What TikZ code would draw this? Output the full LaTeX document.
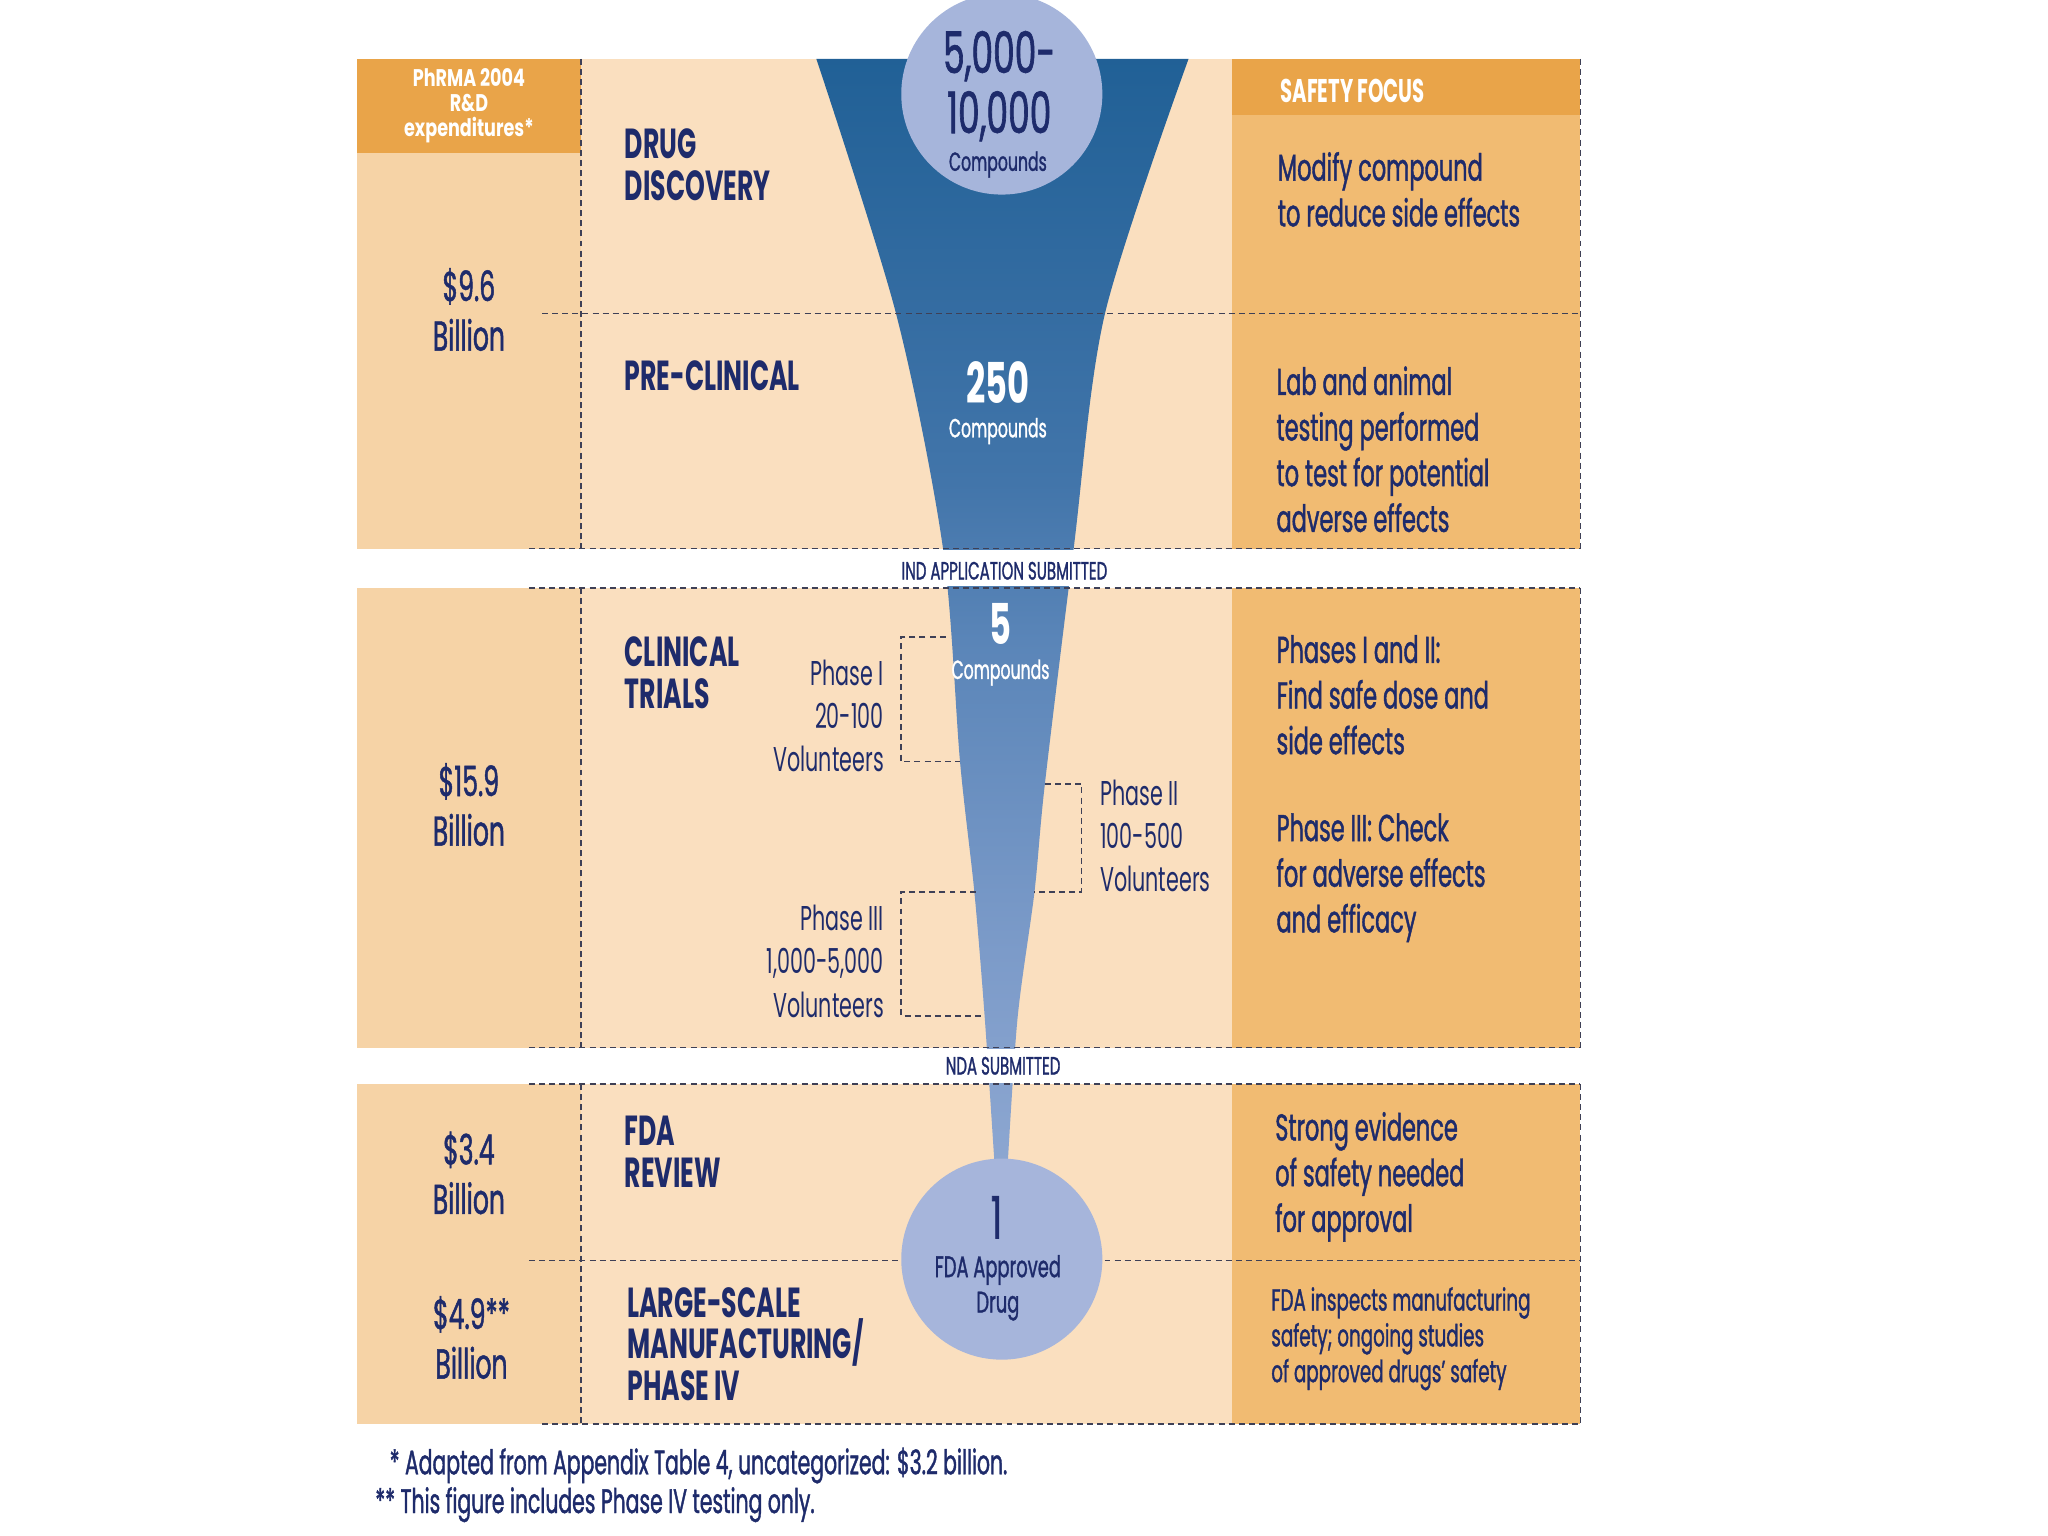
\documentclass[tikz,border=0pt]{standalone}
\usepackage{fontspec}
\setmainfont{Poppins}[FakeStretch=0.6]
\newfontfamily\medfont{Poppins}[FakeStretch=0.6, FakeBold=1.1]
\newfontfamily\headfont{Poppins}[FakeStretch=0.73]
\usetikzlibrary{positioning}

\definecolor{peach}{HTML}{FADFBF}
\definecolor{peachcol}{HTML}{F6D3A6}
\definecolor{safety}{HTML}{F1BB72}
\definecolor{headbar}{HTML}{E9A449}
\definecolor{navy}{HTML}{1E2B6B}
\definecolor{bubblefill}{HTML}{A6B5DB}
\definecolor{rule}{HTML}{3E4056}
\definecolor{fun0}{HTML}{B3C3E4}
\definecolor{fun1}{HTML}{A0B4DA}
\definecolor{fun2}{HTML}{7C9BC9}
\definecolor{fun3}{HTML}{5A85B8}
\definecolor{fun4}{HTML}{4275AA}
\definecolor{fun5}{HTML}{1D5E94}
\definecolor{fun6}{HTML}{175990}

% Funnel colours, bottom to top
\pgfdeclareverticalshading{funnelshade}{100bp}{%
  color(0bp)=(fun0); color(14bp)=(fun1); color(35bp)=(fun2);
  color(49bp)=(fun3); color(56bp)=(fun4); color(77bp)=(fun5);
  color(100bp)=(fun6)}

\begin{document}
\begin{tikzpicture}[x=0.02cm, y=-0.02cm,
  every node/.style={inner sep=0pt, text=navy},
  sep/.style={draw=rule, line width=0.8pt, dash pattern=on 2.6pt off 1.8pt},
  bracket/.style={draw=rule, line width=0.8pt, dash pattern=on 2.6pt off 1.8pt},
  bubble/.style={circle, fill=bubblefill, minimum size=3.08cm},
  stage/.style={font=\bfseries\fontsize{18.3}{18.2}\selectfont, align=left, anchor=west},
  focus/.style={font=\medfont\fontsize{16.3}{19.9}\selectfont, align=left, anchor=west},
  focussmall/.style={font=\medfont\fontsize{13.3}{15.6}\selectfont, align=left, anchor=west},
  money/.style={font=\medfont\fontsize{18.2}{21.6}\selectfont, align=center},
  phase/.style={font=\fontsize{15}{18.8}\selectfont},
  headtext/.style={font=\headfont\bfseries\fontsize{10.5}{10.8}\selectfont, text=white, align=center},
  milestone/.style={font=\medfont\fontsize{10.9}{11}\selectfont},
  count/.style={font=\bfseries\fontsize{24.5}{26}\selectfont, text=white},
  cmpd/.style={font=\medfont\fontsize{11.4}{12}\selectfont},
  note/.style={font=\medfont\fontsize{14.8}{17}\selectfont, anchor=west}]

% Manually size the picture
\useasboundingbox (0,0) rectangle (1568,1176);

% Left column
\fill[peachcol] (273,45) rectangle (445,420);
\fill[peachcol] (273,450) rectangle (445,802);
\fill[peachcol] (273,830) rectangle (445,1090);
\fill[headbar] (273,45) rectangle (445,117);

% Middle column
\fill[peach] (445,45) rectangle (943,420);
\fill[peach] (445,450) rectangle (943,802);
\fill[peach] (445,830) rectangle (943,1090);

% Safety column
\fill[safety] (943,45) rectangle (1210,420);
\fill[safety] (943,450) rectangle (1210,802);
\fill[safety] (943,830) rectangle (1210,1090);
\fill[headbar] (943,45) rectangle (1210,88);

% Funnel
\shade[shading=funnelshade]
  plot[smooth, tension=0.5] coordinates {(625,45) (686,240) (722,420) (735,583) (746,683) (754,780) (762,900)}
  -- plot[smooth, tension=0.5] coordinates {(771,900) (779,780) (792,683) (800,600) (822,420) (846,240) (910,45)}
  -- cycle;

% White bands
\fill[white] (273,421) rectangle (1215,449);
\fill[white] (273,803) rectangle (1215,829);

% Row lines
\draw[sep] (415,240) -- (1210,240);
\draw[sep] (405,420) -- (1210,420);
\draw[sep] (405,450) -- (1210,450);
\draw[sep] (405,802) -- (1210,802);
\draw[sep] (405,830) -- (1210,830);
\draw[sep] (405,965) -- (1210,965);
\draw[sep] (415,1090) -- (1210,1090);

% Column lines
\draw[sep] (445,45) -- (445,420);
\draw[sep] (445,450) -- (445,802);
\draw[sep] (445,830) -- (445,1090);
\draw[sep] (1210,45) -- (1210,420);
\draw[sep] (1210,450) -- (1210,802);
\draw[sep] (1210,830) -- (1210,1090);

% Headers
\node[headtext] (phrma) at (359,81) {PhRMA 2004\\R\&D\\expenditures*};
\node[font=\bfseries\fontsize{14.3}{14.5}\selectfont, text=white, anchor=west] (focushead) at (980,70) {SAFETY FOCUS};

% Spending
\node[money] (m1) at (359,237) {\$9.6\\Billion};
\node[money] (m2) at (359,616) {\$15.9\\Billion};
\node[money] (m3) at (359,898) {\$3.4\\Billion};
\node[money] (m4) at (361,1024) {\$4.9**\\Billion};

% Stages
\node[stage] (discovery) at (478,126) {DRUG\\DISCOVERY};
\node[stage] (preclin) at (478,288) {PRE-CLINICAL};
\node[stage] (clinical) at (478,515) {CLINICAL\\TRIALS};
\node[stage] (review) at (478,882) {FDA\\REVIEW};
\node[stage] (manuf) at (480,1029) {LARGE-SCALE\\MANUFACTURING/\\PHASE IV};

% Compound counts
\node[bubble] (start) at (767,72) {};
\node[font=\medfont\fontsize{25}{26.2}\selectfont, align=center] (startnum) at (765,66) {5,000-\\10,000};
\node[cmpd] (startlbl) at (764,126) {Compounds};
\node[count] (c250) at (764,293) {250};
\node[cmpd, text=white] (c250lbl) at (764,330) {Compounds};
\node[count] (c5) at (766,478) {5};
\node[cmpd, text=white] (c5lbl) at (766,515) {Compounds};
\node[bubble] (approved) at (767,964) {};
\node[font=\medfont\fontsize{25.6}{26}\selectfont] (one) at (763,932) {1};
\node[font=\medfont\fontsize{13}{15.4}\selectfont, align=center] (onelbl) at (764,986) {FDA Approved\\Drug};

% Milestones
\node[milestone] (ind) at (769,437) {IND APPLICATION SUBMITTED};
\node[milestone] (nda) at (768,816) {NDA SUBMITTED};

% Trial phases
\node[phase, align=right, anchor=east] (ph1) at (677,548) {Phase I\\20-100\\Volunteers};
\node[phase, align=left, anchor=west] (ph2) at (842,640) {Phase II\\100-500\\Volunteers};
\node[phase, align=right, anchor=east] (ph3) at (677,736) {Phase III\\1,000-5,000\\Volunteers};
\coordinate (ph1a) at (724,488);
\coordinate (ph1b) at (735,583);
\coordinate (ph2a) at (800,600);
\coordinate (ph2b) at (792,683);
\coordinate (ph3a) at (747,683);
\coordinate (ph3b) at (753,778);
\draw[bracket] (ph1a) -- ++(-34,0) |- (ph1b);
\draw[bracket] (ph2a) -- ++(28,0) |- (ph2b);
\draw[bracket] (ph3a) -- ++(-57,0) |- (ph3b);

% Safety focus
\node[focus] (f1) at (978,145) {Modify compound\\to reduce side effects};
\node[focus] (f2) at (977,344) {Lab and animal\\testing performed\\to test for potential\\adverse effects};
\node[focus] (f3) at (977,532) {Phases I and II:\\Find safe dose and\\side effects};
\node[focus] (f4) at (977,672) {Phase III: Check\\for adverse effects\\and efficacy};
\node[focus] (f5) at (976,901) {Strong evidence\\of safety needed\\for approval};
\node[focussmall] (f6) at (973,1025) {FDA inspects manufacturing\\safety; ongoing studies\\of approved drugs’ safety};

% Footnotes
\node[note] (n1) at (298,1122) {* Adapted from Appendix Table 4, uncategorized: \$3.2 billion.};
\node[note] (n2) at (287,1152) {** This figure includes Phase IV testing only.};

\end{tikzpicture}
\end{document}
